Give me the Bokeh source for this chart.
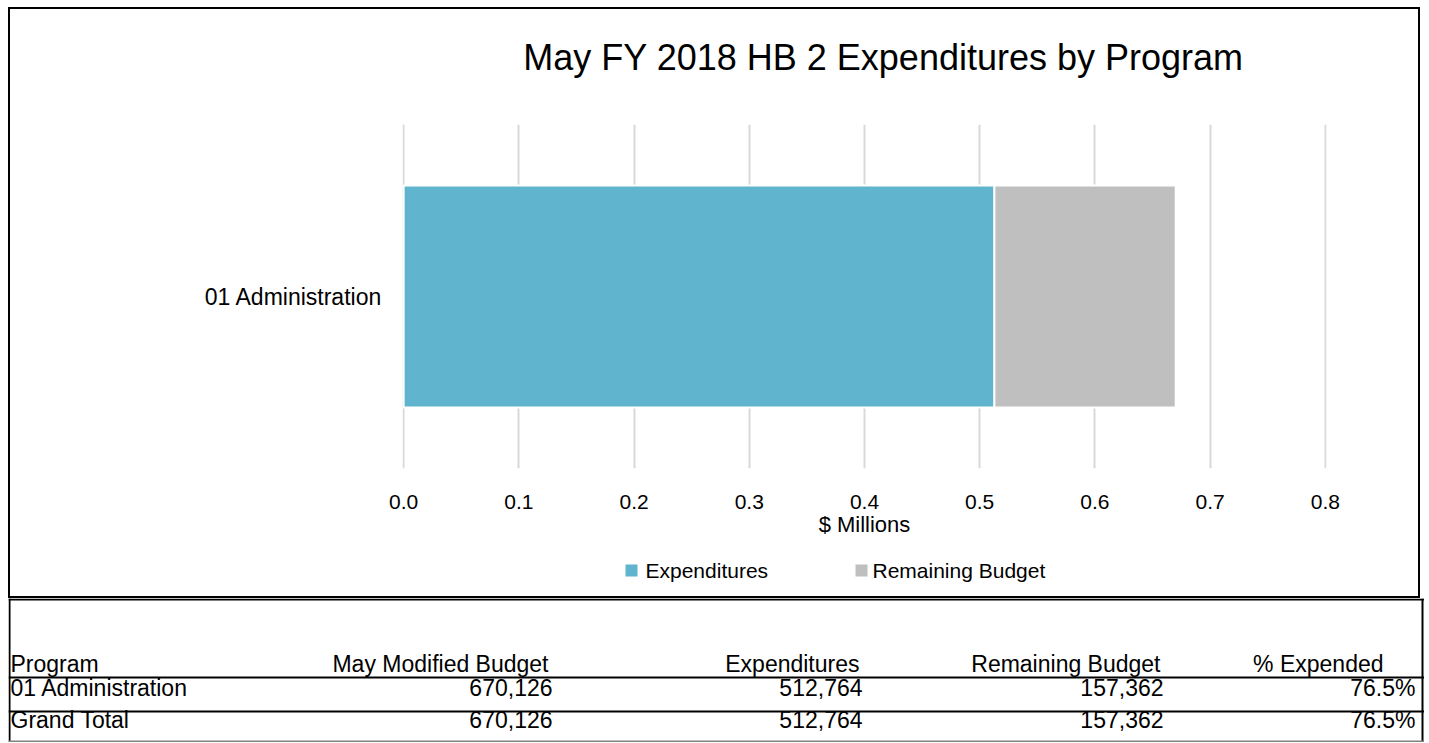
from bokeh.plotting import figure
from bokeh.models import (FactorRange, Range1d, FixedTicker, NumeralTickFormatter,
                          ColumnDataSource, InlineStyleSheet)
from bokeh.core.properties import value
from bokeh.embed import file_html
from bokeh.resources import INLINE

# ---- data ----
programs = ["01 Administration"]
budget = [670126]
expenditures = [512764]
remaining = [157362]
pct_expended = [76.5]
x_ticks = [0.0, 0.1, 0.2, 0.3, 0.4, 0.5, 0.6, 0.7, 0.8]
series_names = ["Expenditures", "Remaining Budget"]
series_colors = ["#61B4CD", "#BFBFBF"]
table_headers = ["Program", "May Modified Budget", "Expenditures", "Remaining Budget", "% Expended"]
title_text = "May FY 2018 HB 2 Expenditures by Program"

FONT = "Liberation Sans"
CW = 1412


def boxed(fig, sides):
    sh = {"l": "inset 2px 0 0 0 black", "r": "inset -2px 0 0 0 black",
          "t": "inset 0 2px 0 0 black", "b": "inset 0 -2px 0 0 black"}
    css = ":host { box-shadow: " + ", ".join(sh[s] for s in sides) + "; }"
    fig.stylesheets = [InlineStyleSheet(css=css)]
    fig.border_fill_color = None
    fig.background_fill_color = None
    fig.outline_line_color = None


def pixel_fig(w, h, margin):
    f = figure(width=w, height=h, x_range=Range1d(0, w), y_range=Range1d(h, 0),
               output_backend="svg", toolbar_location=None, min_border=0,
               x_axis_type=None, y_axis_type=None)
    f.margin = margin
    f.xgrid.visible = False
    f.ygrid.visible = False
    return f


# ---- title strip ----
TTH = 93
tt = pixel_fig(CW, TTH, (7, 0, 0, 8))
boxed(tt, "lrt")
tt.text(x=[875], y=[50], text=[title_text], text_align="center", text_baseline="middle",
        text_font=value(FONT), text_font_size=value("36px"), text_color="black")

# ---- chart ----
src = ColumnDataSource(dict(
    program=programs,
    exp=[v / 1e6 for v in expenditures],
    rem=[v / 1e6 for v in remaining],
))
pad = 0.001
p = figure(width=CW, height=445, y_range=FactorRange(factors=programs),
           x_range=Range1d(x_ticks[0] - pad, x_ticks[-1] + pad),
           output_backend="svg", toolbar_location=None,
           min_border_left=394, min_border_right=94, min_border_top=24,
           min_border_bottom=77)
p.margin = (0, 0, 0, 8)
boxed(p, "lr")

p.hbar_stack(["exp", "rem"], y="program", height=0.645, color=series_colors,
             source=src, line_color="white", line_width=2)

ticker = FixedTicker(ticks=x_ticks)
p.xaxis.ticker = ticker
p.xgrid.ticker = ticker
p.xaxis.formatter = NumeralTickFormatter(format="0.0")
p.xaxis.axis_line_color = None
p.xaxis.major_tick_line_color = None
p.xaxis.minor_tick_line_color = None
p.xaxis.major_label_text_font = FONT
p.xaxis.major_label_text_font_size = "21px"
p.xaxis.major_label_text_color = "black"
p.xaxis.major_label_standoff = 20
p.xaxis.axis_label = "$ Millions"
p.xaxis.axis_label_text_font = FONT
p.xaxis.axis_label_text_font_size = "22px"
p.xaxis.axis_label_text_font_style = "normal"
p.xaxis.axis_label_text_color = "black"
p.xaxis.axis_label_standoff = 0

p.yaxis.axis_line_color = None
p.yaxis.major_tick_line_color = None
p.yaxis.minor_tick_line_color = None
p.yaxis.major_tick_out = 0
p.yaxis.major_label_text_font = FONT
p.yaxis.major_label_text_font_size = "23px"
p.yaxis.major_label_text_color = "black"
p.yaxis.major_label_standoff = 20

p.ygrid.grid_line_color = None
p.xgrid.grid_line_color = "#d9d9d9"
p.xgrid.grid_line_width = 2

# ---- legend strip ----
LH = 53
lg = pixel_fig(CW, LH, (0, 0, 0, 8))
boxed(lg, "lrb")
lg.scatter(x=[623, 853], y=[25, 25], marker="square", size=12,
           fill_color=series_colors, line_color=None)
lg.text(x=[637, 864], y=[25, 25], text=series_names, text_align="left",
        text_baseline="middle", text_font=value(FONT), text_font_size=value("21px"),
        text_color="black")

# ---- table ----
TW, TH = 1416, 144
t = pixel_fig(TW, TH, (0, 0, 0, 8))
t.outline_line_color = None

t.segment(x0=[0, 1, 1414, 0, 0], y0=[1, 0, 0, 79, 113],
          x1=[TW, 1, 1414, TW, TW], y1=[1, TH, TH, 79, 113],
          line_color="black", line_width=2)
t.segment(x0=[0], y0=[143], x1=[TW], y1=[143], line_color="#808080", line_width=2)

rows = [programs[0], "Grand Total"]
row_budget = [budget[0], sum(budget)]
row_exp = [expenditures[0], sum(expenditures)]
row_rem = [remaining[0], sum(remaining)]
row_pct = [pct_expended[0], round(100.0 * sum(expenditures) / sum(budget), 1)]
row_y = [89, 121]
header_y = 65

tf = dict(text_font=value(FONT), text_font_size=value("23px"), text_color="black",
          text_baseline="alphabetic")
t.text(x=[2, 2, 2], y=[header_y] + row_y, text=[table_headers[0]] + rows,
       text_align="left", **tf)
t.text(x=[540, 851, 1152, 1375], y=[header_y] * 4, text=table_headers[1:],
       text_align="right", **tf)
vals_x, vals_y, vals_t = [], [], []
for i in range(2):
    for xx, s in zip([544, 854, 1155, 1407],
                     [f"{row_budget[i]:,}", f"{row_exp[i]:,}", f"{row_rem[i]:,}",
                      f"{row_pct[i]:.1f}%"]):
        vals_x.append(xx)
        vals_y.append(row_y[i])
        vals_t.append(s)
t.text(x=vals_x, y=vals_y, text=vals_t, text_align="right", **tf)

open("out.html", "w").write(file_html([tt, p, lg, t], INLINE))
